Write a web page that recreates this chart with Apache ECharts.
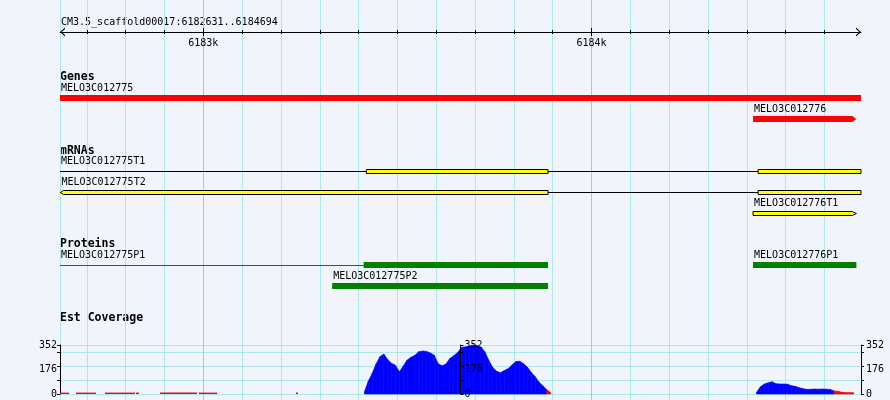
<!DOCTYPE html>
<html><head><meta charset="utf-8">
<script src="https://cdn.jsdelivr.net/npm/echarts@6/dist/echarts.min.js"></script>
<style>html,body{margin:0;padding:0;background:#f1f4fa}#c{width:890px;height:400px}</style>
</head><body><div id="c"></div><script>
// ---------------- data ----------------
const refName = 'CM3.5_scaffold00017';
const viewStart = 6182631;
const viewEnd = 6184694;
const majorTickValues = [6183000, 6184000];
const majorTickLabels = ['6183k', '6184k'];
const trackTitles = ['Genes', 'mRNAs', 'Proteins', 'Est Coverage'];

const geneNames = ['MELO3C012775', 'MELO3C012776'];
const geneStarts = [6182500, 6184416];
const geneEnds = [6184800, 6184682];
const geneStrands = [-1, 1];

const mrnaNames = ['MELO3C012775T1', 'MELO3C012775T2', 'MELO3C012776T1'];
const mrnaStarts = [6182500, 6182632, 6184416];
const mrnaEnds = [6184800, 6184800, 6184682];
const mrnaStrands = [-1, -1, 1];
const mrnaExons = [
  [[6183420, 6183888], [6184429, 6184800]],
  [[6182632, 6183888], [6184429, 6184800]],
  [[6184416, 6184682]]
];

const proteinNames = ['MELO3C012775P1', 'MELO3C012775P2', 'MELO3C012776P1'];
const proteinStarts = [6182500, 6183332, 6184416];
const proteinEnds = [6183888, 6183888, 6184682];
const proteinBlocks = [
  [[6183413, 6183888]],
  [[6183332, 6183888]],
  [[6184416, 6184682]]
];

const covMax = 352;
const covLabelValues = [0, 176, 352];
const covStep = 10;
const cov1Start = 6183415;
const cov1 = [15, 92, 148, 215, 268, 287, 248, 220, 207, 160, 200, 244, 264, 278, 304, 309, 306, 295, 278, 218,
  203, 215, 255, 275, 298, 335, 338, 345, 352, 348, 338, 305, 244, 192, 165, 152, 168, 182, 208, 233,
  235, 218, 192, 155, 124, 85, 58, 30, 10];
const cov2Start = 6184425;
const cov2 = [12, 52, 72, 80, 88, 74, 72, 72, 70, 60, 55, 45, 38, 33, 34, 36, 35, 36, 35, 33, 22, 20, 12, 10, 10, 10];
const lowCovStarts = [6182631, 6182673, 6182747, 6182827, 6182889, 6182990, 6183240];
const lowCovEnds = [6182655, 6182724, 6182825, 6182835, 6182985, 6183036, 6183245];
const lowCovValues = [10, 10, 10, 10, 10, 10, 10];

// ---------------- layout / style ----------------
const W = 890;
const PL = 60, PR = 29;
const k = (W - PL - PR) / (viewEnd - viewStart);
const bgMin = Math.floor(viewStart / 100) * 100;
const bgMax = Math.ceil(viewEnd / 100) * 100;
const bgLeft = PL - (viewStart - bgMin) * k;
const bgRight = W - (PL + (bgMax - viewStart) * k);
const FONT = '"DejaVu Sans Mono", monospace';
const gridColor = '#abe9ef';
const majorGridColor = '#8fd0e6';
const lowThreshold = 25;

const bgColors = [];
for (let v = bgMin + 100; v < bgMax; v += 100) bgColors.push(v % 1000 === 0 ? majorGridColor : gridColor);
const minorTicks = [];
for (let v = bgMin + 100; v <= viewEnd; v += 100) if (v >= viewStart) minorTicks.push(v);

function pack(starts, ends, names) {
  const rowEnds = [], rows = [];
  for (let i = 0; i < names.length; i++) {
    const s = Math.max(starts[i], viewStart);
    const e = Math.max(ends[i], s + (names[i].length * 6 + 6) / k);
    let r = rowEnds.findIndex(x => x < s);
    if (r < 0) { r = rowEnds.length; rowEnds.push(e); } else rowEnds[r] = e;
    rows.push(r);
  }
  return rows;
}

function featureSeries(axisIdx, names, starts, ends, strands, blocks, st) {
  const rows = pack(starts, ends, names);
  const data = names.map((n, i) => [starts[i], ends[i], rows[i], i]);
  return {
    type: 'custom', xAxisIndex: axisIdx, yAxisIndex: axisIdx, data,
    encode: { x: [0, 1], y: 2 },
    renderItem(params, api) {
      const i = api.value(3);
      const cs = params.coordSys;
      const xmin = cs.x, xmax = cs.x + cs.width;
      const X = v => Math.min(xmax, Math.max(xmin, api.coord([v, api.value(2)])[0]));
      const y = api.coord([starts[i], api.value(2)])[1];
      const ch = [];
      if (st.line) {
        ch.push({ type: 'line', shape: { x1: X(starts[i]), y1: y + st.lineOff, x2: X(ends[i]), y2: y + st.lineOff },
          style: { stroke: st.lineColor, lineWidth: 1 } });
      }
      const bl = blocks[i];
      bl.forEach((b, j) => {
        const x0 = X(b[0]), x1 = X(b[1]);
        const t = y - st.hh, bt = y + st.hh2;
        let pts = [[x0, t], [x1, t], [x1, bt], [x0, bt]];
        if (st.arrows && strands[i] > 0 && j === bl.length - 1 && ends[i] <= viewEnd) {
          pts = [[x0, t], [x1 - 4, t], [x1, y + (st.hh2 - st.hh) / 2], [x1 - 4, bt], [x0, bt]];
        }
        if (st.arrows && strands[i] < 0 && j === 0 && starts[i] >= viewStart) {
          pts = [[x0, y + (st.hh2 - st.hh) / 2], [x0 + 3, t], [x1, t], [x1, bt], [x0 + 3, bt]];
        }
        ch.push({ type: 'polygon', shape: { points: pts },
          style: { fill: st.fill, stroke: st.stroke || null, lineWidth: st.stroke ? 1 : 0 } });
      });
      ch.push({ type: 'text', style: { text: names[i], x: Math.max(X(starts[i]), xmin) + 1, y: y - 10,
        font: '10px ' + FONT, fill: '#000', align: 'left', verticalAlign: 'middle' } });
      return { type: 'group', children: ch };
    }
  };
}

// coverage profile segments: [pos_i, value_i, pos_i+1, value_i+1]
const covSeg = [];
function addRun(start, vals) {
  for (let i = 0; i < vals.length - 1; i++) {
    covSeg.push([start + i * covStep, vals[i], start + (i + 1) * covStep, vals[i + 1]]);
  }
}
addRun(cov1Start, cov1);
addRun(cov2Start, cov2);
const lowData = lowCovStarts.map((s, i) => [s, lowCovEnds[i], lowCovValues[i]]);

const chevron = 'path://M0,5L4.5,0L9,5L7.4,5L4.5,1.6L1.6,5Z';
const hiddenX = (g) => ({ gridIndex: g, type: 'value', min: viewStart, max: viewEnd, show: false });
const hiddenYc = (g, n) => ({ gridIndex: g, type: 'category', inverse: true, data: Array.from({ length: n }, (_, i) => i), show: false });
const rulerGrid = { left: PL, right: PR, top: 10, height: 22 };
const tickAxis = (g, vals, len, inside, line, labels) => ({
  gridIndex: g, type: 'value', min: viewStart, max: viewEnd, position: 'bottom',
  axisLine: line ? { show: true, lineStyle: { color: '#000', width: 1 }, symbol: [chevron, chevron], symbolSize: [9, 5], symbolOffset: [2.5, -2.5] } : { show: false },
  axisTick: { show: true, customValues: vals, length: len, inside: inside, lineStyle: { color: '#000', width: 1 } },
  axisLabel: labels ? { show: true, customValues: majorTickValues, margin: 6,
    formatter: v => majorTickLabels[majorTickValues.indexOf(v)] || '', color: '#000', fontFamily: FONT, fontSize: 10 } : { show: false },
  splitLine: { show: false }
});
const covY = (g, pos, offset, margin, split, z) => ({
  gridIndex: g, type: 'value', min: 0, max: covMax, interval: 100, position: pos, offset: offset, z: z,
  axisLine: { show: true, lineStyle: { color: '#000', width: 1 } },
  axisTick: { show: true, length: 3, lineStyle: { color: '#000' } },
  axisLabel: { show: true, customValues: covLabelValues, margin: margin, color: '#000', fontFamily: FONT, fontSize: 10 },
  splitLine: { show: split, lineStyle: { color: gridColor, width: 1 } }
});

const geneRows = 2, mrnaRows = 3, protRows = 2;
const option = {
  backgroundColor: '#f1f4fa',
  animation: false,
  grid: [
    { left: bgLeft, right: bgRight, top: 0, bottom: 0 },        // 0 background grid lines
    { left: PL, right: PR, top: 0, bottom: 0 },                 // 1 frame
    rulerGrid, rulerGrid, rulerGrid, rulerGrid,                 // 2-5 ruler
    { left: PL, right: PR, top: 87.5, height: 21 * geneRows },  // 6 genes
    { left: PL, right: PR, top: 161, height: 21 * mrnaRows },   // 7 mRNAs
    { left: PL, right: PR, top: 254.5, height: 21 * protRows }, // 8 proteins
    { left: PL, right: PR, top: 345, bottom: 6 },               // 9 coverage
    { left: PL, right: PR, top: 345, bottom: 6 },               // 10 coverage right
    { left: PL, right: PR, top: 345, bottom: 6 }                // 11 coverage middle
  ],
  xAxis: [
    { gridIndex: 0, type: 'value', min: bgMin, max: bgMax, interval: 100,
      axisLine: { show: false }, axisTick: { show: false }, axisLabel: { show: false },
      splitLine: { show: true, showMinLine: false, showMaxLine: false, lineStyle: { color: bgColors, width: 1 } } },
    hiddenX(1),
    tickAxis(2, minorTicks, 2, false, true, true),
    tickAxis(3, minorTicks, 2, true, false, false),
    tickAxis(4, majorTickValues, 4, false, false, false),
    tickAxis(5, majorTickValues, 4, true, false, false),
    hiddenX(6), hiddenX(7), hiddenX(8), hiddenX(9), hiddenX(10), hiddenX(11)
  ],
  yAxis: [
    { gridIndex: 0, type: 'value', show: false },
    { gridIndex: 1, type: 'value', min: 0, max: 1, axisLine: { show: true, lineStyle: { color: gridColor } },
      axisTick: { show: false }, axisLabel: { show: false }, splitLine: { show: false } },
    { gridIndex: 2, type: 'value', show: false }, { gridIndex: 3, type: 'value', show: false },
    { gridIndex: 4, type: 'value', show: false }, { gridIndex: 5, type: 'value', show: false },
    hiddenYc(6, geneRows), hiddenYc(7, mrnaRows), hiddenYc(8, protRows),
    covY(9, 'left', 0, 3, true, 0),
    covY(10, 'right', 0, 5, false, 0),
    covY(11, 'right', -(W - PL - PR) / 2, 4, false, 5)
  ],
  graphic: [
    { type: 'text', left: PL + 1, top: 17, style: { text: refName + ':' + viewStart + '..' + viewEnd, font: '10px ' + FONT, fill: '#000' } },
    { type: 'text', left: PL, top: 71, style: { text: trackTitles[0], font: 'bold 11.5px ' + FONT, fill: '#000' } },
    { type: 'text', left: PL, top: 145.5, style: { text: trackTitles[1], font: 'bold 11.5px ' + FONT, fill: '#000' } },
    { type: 'text', left: PL, top: 238.5, style: { text: trackTitles[2], font: 'bold 11.5px ' + FONT, fill: '#000' } },
    { type: 'text', left: PL, top: 312.5, style: { text: trackTitles[3], font: 'bold 11.5px ' + FONT, fill: '#000' } }
  ],
  series: [
    featureSeries(6, geneNames, geneStarts, geneEnds, geneStrands, geneStarts.map((s, i) => [[s, geneEnds[i]]]),
      { fill: '#ff0000', hh: 3, hh2: 3, arrows: true, line: false }),
    featureSeries(7, mrnaNames, mrnaStarts, mrnaEnds, mrnaStrands, mrnaExons,
      { fill: '#ffff00', stroke: '#000', hh: 2, hh2: 2, arrows: true, line: true, lineColor: '#000', lineOff: 0 }),
    featureSeries(8, proteinNames, proteinStarts, proteinEnds, [1, 1, 1], proteinBlocks,
      { fill: '#008000', hh: 3, hh2: 3, arrows: false, line: true, lineColor: '#008000', lineOff: 0.5 }),
    {
      type: 'custom', xAxisIndex: 9, yAxisIndex: 9, data: covSeg, encode: { x: [0, 2], y: [1, 3] },
      renderItem(params, api) {
        const a = api.coord([api.value(0), api.value(1)]);
        const b = api.coord([api.value(2), api.value(3)]);
        const base = api.coord([api.value(0), 0])[1];
        const low = (api.value(1) + api.value(3)) / 2 < lowThreshold;
        return { type: 'polygon', shape: { points: [[a[0], base], a, b, [b[0], base]] },
          style: { fill: low ? '#ff0000' : '#0000ff', stroke: low ? '#ff0000' : '#0000ff', lineWidth: 0.6 } };
      }
    },
    {
      type: 'custom', xAxisIndex: 9, yAxisIndex: 9, data: lowData, encode: { x: [0, 1], y: 2 },
      renderItem(params, api) {
        const p0 = api.coord([api.value(0), api.value(2)]);
        const p1 = api.coord([api.value(1), 0]);
        return { type: 'rect', shape: { x: Math.round(p0[0]), y: p0[1], width: Math.max(1, Math.round(p1[0]) - Math.round(p0[0])), height: p1[1] - p0[1] },
          style: { fill: '#ff0000' } };
      }
    }
  ]
};
const chart = echarts.init(document.getElementById('c'), null, { renderer: 'canvas' });
chart.setOption(option);
</script></body></html>
